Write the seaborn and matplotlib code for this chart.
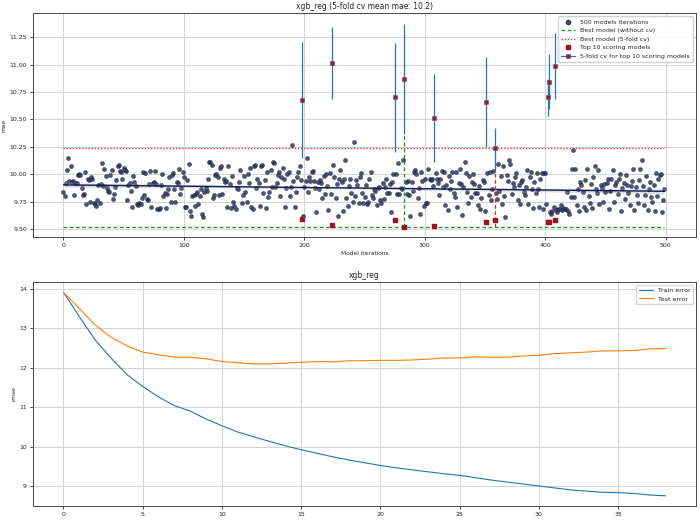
import numpy as np
import pandas as pd
import seaborn as sns
import matplotlib.pyplot as plt
from matplotlib.lines import Line2D

# mae for each of the 500 random-search iterations
mae = [
    9.84, 9.80, 9.92, 10.04, 10.15, 9.94, 10.07, 9.93, 9.94, 9.81, 9.92, 9.92, 9.99, 10.00, 9.99, 9.87, 9.81, 9.82, 10.02, 9.73, 9.96, 9.95, 9.75, 9.97, 9.96,
    9.74, 9.73, 9.71, 9.76, 9.90, 9.74, 9.91, 10.10, 9.89, 10.05, 9.98, 9.87, 9.85, 9.84, 9.99, 10.04, 9.77, 9.82, 9.88, 9.95, 10.07, 10.08, 10.03, 10.02, 9.96,
    10.06, 10.04, 10.03, 9.76, 9.90, 9.92, 9.85, 9.70, 9.98, 9.93, 9.89, 9.73, 9.72, 9.74, 9.73, 9.78, 10.02, 9.81, 10.01, 9.77, 9.76, 9.91, 10.03, 9.70, 9.92,
    9.93, 10.03, 9.91, 9.68, 9.68, 9.69, 9.90, 10.00, 9.80, 9.83, 9.69, 9.82, 9.86, 9.97, 9.75, 9.99, 10.01, 9.86, 9.75, 9.93, 9.92, 10.05, 9.82, 9.87, 10.02,
    9.97, 9.70, 9.70, 9.95, 10.09, 9.66, 9.62, 9.80, 9.81, 9.71, 9.82, 9.84, 9.73, 9.80, 9.86, 9.64, 9.61, 9.84, 9.87, 9.85, 9.96, 10.11, 10.11, 10.08, 9.78,
    9.81, 9.99, 10.00, 9.97, 9.81, 10.06, 10.07, 9.82, 9.96, 9.93, 9.94, 9.70, 10.07, 9.91, 9.69, 9.98, 9.75, 9.71, 9.68, 9.87, 9.86, 9.93, 10.04, 9.74, 9.81,
    9.98, 9.84, 9.75, 10.00, 9.92, 10.06, 9.70, 9.68, 10.07, 10.08, 9.87, 9.96, 9.92, 9.71, 10.07, 10.08, 9.83, 9.95, 9.69, 10.02, 9.79, 9.84, 10.04, 9.88, 10.11,
    10.10, 9.88, 9.92, 9.99, 10.02, 9.80, 9.97, 10.06, 9.96, 9.70, 9.87, 10.00, 10.02, 9.80, 9.88, 10.27, 9.94, 9.70, 9.84, 9.97, 10.02, 10.07, 9.95, 9.59, 9.62,
    9.88, 9.94, 10.15, 9.84, 9.97, 9.94, 10.02, 10.03, 9.94, 9.87, 9.65, 9.93, 9.86, 9.95, 9.92, 9.78, 9.98, 9.82, 10.00, 9.89, 9.67, 10.01, 9.82, 9.54, 10.08,
    9.97, 9.78, 9.91, 9.62, 9.96, 10.04, 9.93, 9.66, 9.96, 10.13, 9.78, 9.71, 9.89, 9.96, 9.83, 9.75, 10.29, 9.80, 9.95, 9.90, 9.74, 9.97, 10.01, 9.83, 9.74,
    9.79, 9.90, 9.73, 9.75, 9.96, 10.02, 9.81, 9.78, 9.86, 9.85, 9.72, 9.87, 9.88, 9.76, 9.74, 9.92, 9.77, 9.88, 9.96, 9.83, 9.83, 9.91, 9.65, 9.93, 10.00,
    9.58, 10.00, 9.82, 10.10, 9.82, 9.87, 9.86, 10.13, 9.515, 9.93, 9.82, 9.94, 9.81, 9.62, 9.93, 9.85, 10.02, 10.04, 10.00, 9.78, 9.87, 9.64, 10.02, 9.94, 9.71,
    9.96, 9.74, 9.74, 10.05, 9.96, 9.95, 9.96, 9.89, 9.527, 10.01, 9.96, 9.92, 9.81, 9.96, 10.03, 9.88, 10.02, 9.72, 9.90, 9.67, 9.98, 9.86, 9.94, 10.02, 9.83,
    9.79, 10.02, 9.70, 9.92, 10.05, 9.91, 9.63, 9.88, 10.11, 10.01, 9.84, 9.74, 9.98, 9.79, 9.93, 10.00, 9.91, 9.83, 9.83, 9.72, 9.89, 9.68, 9.78, 9.95, 9.93,
    9.66, 9.567, 10.01, 9.81, 10.02, 9.76, 9.86, 10.03, 9.58, 9.83, 9.77, 10.09, 9.85, 9.98, 9.73, 10.07, 9.80, 9.61, 9.99, 9.94, 10.13, 10.09, 9.82, 9.92, 9.88,
    9.97, 10.01, 9.76, 9.90, 9.73, 9.93, 9.95, 9.84, 9.81, 9.88, 10.04, 9.73, 9.97, 10.02, 9.86, 9.69, 9.93, 9.83, 10.01, 9.86, 9.70, 9.96, 10.01, 9.68, 10.01,
    10.01, 9.73, 9.567, 9.567, 9.65, 9.64, 9.66, 9.70, 9.582, 9.67, 9.65, 9.68, 9.68, 9.72, 9.67, 9.69, 9.68, 9.68, 9.84, 9.66, 9.64, 9.79, 10.05, 10.22, 9.79,
    10.05, 9.72, 9.86, 9.66, 9.93, 9.90, 9.84, 9.70, 9.95, 9.67, 10.05, 9.80, 9.74, 9.91, 9.69, 9.97, 10.07, 9.86, 9.83, 10.04, 9.73, 9.90, 9.87, 9.75, 9.91,
    9.84, 9.92, 9.96, 9.68, 9.85, 9.96, 10.04, 9.75, 9.90, 9.93, 9.82, 9.96, 10.00, 9.66, 9.87, 9.92, 9.77, 9.99, 9.90, 9.83, 9.72, 9.89, 9.94, 10.05, 9.67,
    9.88, 9.81, 9.74, 9.95, 10.05, 10.13, 9.89, 9.72, 9.81, 9.98, 9.67, 9.86, 9.93, 9.79, 9.75, 9.90, 9.66, 10.01, 9.80, 9.96, 9.99, 10.00, 9.65, 9.76, 9.86,
]
iterations = np.arange(len(mae))

# the 10 best iterations and their 5-fold cv results
top10_iter = [198, 223, 275, 283, 308, 351, 358, 402, 403, 408]
cv_mean = [10.68, 11.015, 10.70, 10.87, 10.51, 10.66, 10.235, 10.70, 10.845, 10.985]
cv_std = [0.53, 0.33, 0.50, 0.50, 0.40, 0.41, 0.19, 0.17, 0.25, 0.30]

# training curve of the chosen model
train_rmse = [13.92, 13.30, 12.71, 12.25, 11.83, 11.53, 11.26, 11.04, 10.90, 10.70,
              10.53, 10.37, 10.25, 10.13, 10.02, 9.92, 9.83, 9.74, 9.66, 9.59,
              9.52, 9.46, 9.41, 9.36, 9.31, 9.27, 9.21, 9.15, 9.10, 9.05,
              9.00, 8.95, 8.90, 8.87, 8.84, 8.83, 8.81, 8.77, 8.75]
test_rmse = [13.92, 13.51, 13.09, 12.78, 12.56, 12.40, 12.33, 12.27, 12.27, 12.23,
             12.16, 12.13, 12.10, 12.10, 12.12, 12.14, 12.16, 12.15, 12.18, 12.18,
             12.19, 12.19, 12.20, 12.22, 12.25, 12.25, 12.28, 12.27, 12.27, 12.30,
             12.32, 12.36, 12.38, 12.40, 12.43, 12.43, 12.44, 12.48, 12.49]

mae = np.array(mae)
best_no_cv = mae.min()
best_i = int(np.argmin(mae))
k_cv = int(np.argmin(cv_mean))
best_cv = cv_mean[k_cv]
k_nocv = top10_iter.index(best_i)

sns.set_style('ticks')
plt.rcParams.update({'font.size': 4.5, 'axes.linewidth': 0.7,
                     'xtick.major.width': 0.6, 'ytick.major.width': 0.6,
                     'xtick.major.size': 2.5, 'ytick.major.size': 2.5,
                     'axes.edgecolor': '#444444'})

fig, (ax1, ax2) = plt.subplots(2, 1, figsize=(7, 5.21), dpi=100)
fig.subplots_adjust(left=0.0476, right=0.994, top=0.9745, bottom=0.0288, hspace=0.2)

df = pd.DataFrame({'iteration': iterations, 'mae': mae})
sns.regplot(data=df, x='iteration', y='mae', ax=ax1,
            scatter_kws=dict(s=9, color='#2c375e', edgecolor='#1a2240', linewidths=0.3, alpha=0.85),
            line_kws=dict(color='#0d1f4d', lw=1.0))
ax1.hlines(best_no_cv, 0, len(mae) - 1, colors='#119911', linestyles=(0, (3, 2)), lw=0.9)
ax1.hlines(best_cv, 0, len(mae) - 1, colors='#ee2222', linestyles=(0, (1, 1.5)), lw=0.9)
ax1.vlines(best_i, best_no_cv, cv_mean[k_nocv] - cv_std[k_nocv], colors='#119911',
           linestyles=(0, (3, 2)), lw=0.9)
ax1.vlines(top10_iter[k_cv], best_no_cv, best_cv, colors='#ee2222', linestyles=(0, (3, 2)), lw=0.9)
ax1.scatter(top10_iter, mae[top10_iter], marker='s', s=7, color='#a01020', zorder=4)
ax1.errorbar(top10_iter, cv_mean, yerr=cv_std, fmt='s', ms=2.6, ecolor='tab:blue',
             elinewidth=0.9, mfc='#9b1b30', mec='#6a5060', mew=0.4, zorder=5)

handles = [
    Line2D([], [], ls='', marker='o', ms=3, mfc='#2c375e', mec='#1a2240', alpha=0.85),
    Line2D([], [], color='#119911', ls=(0, (3, 2)), lw=0.9),
    Line2D([], [], color='#ee2222', ls=(0, (1, 1.5)), lw=0.9),
    Line2D([], [], ls='', marker='s', ms=2.6, color='#a01020'),
    Line2D([], [], color='tab:blue', lw=0.9, marker='s', ms=2.6, mfc='#9b1b30', mec='#6a5060', mew=0.4),
]
labels = ['500 models iterations', 'Best model (without cv)', 'Best model (5-fold cv)',
          'Top 10 scoring models', '5-fold cv for top 10 scoring models']
ax1.legend(handles, labels, loc='upper right', fontsize=4.5, framealpha=0.9,
           borderpad=0.5, handlelength=2.2)

ax1.set_title('xgb_reg (5-fold cv mean mae: 10.2)', fontsize=5.5, pad=3)
ax1.set_xlabel('Model iterations', fontsize=4.2, labelpad=2)
ax1.set_ylabel('mae', fontsize=4.2, labelpad=2)
ax1.set_xlim(-25, 525)
ax1.set_ylim(9.424, 11.468)
yt = np.arange(9.5, 11.26, 0.25)
ax1.set_yticks(yt)
ax1.set_yticklabels([f'{t:.2f}' for t in yt])
ax1.grid(True, color='#d3d3d3', lw=0.7)

epochs = np.arange(len(train_rmse))
sns.lineplot(x=epochs, y=train_rmse, ax=ax2, label='Train error', color='tab:blue', lw=0.8)
sns.lineplot(x=epochs, y=test_rmse, ax=ax2, label='Test error', color='tab:orange', lw=0.8)
ax2.set_title('xgb_reg', fontsize=5.5, pad=3)
ax2.set_ylabel('rmse', fontsize=4.2, labelpad=2)
ax2.set_xticks(range(0, 36, 5))
ax2.grid(True, color='#d3d3d3', lw=0.7)
ax2.legend(loc='upper right', fontsize=4.5, handlelength=2.2)

for ax in (ax1, ax2):
    ax.tick_params(labelsize=4.5, pad=2)

fig.savefig('out.png', dpi=100)
